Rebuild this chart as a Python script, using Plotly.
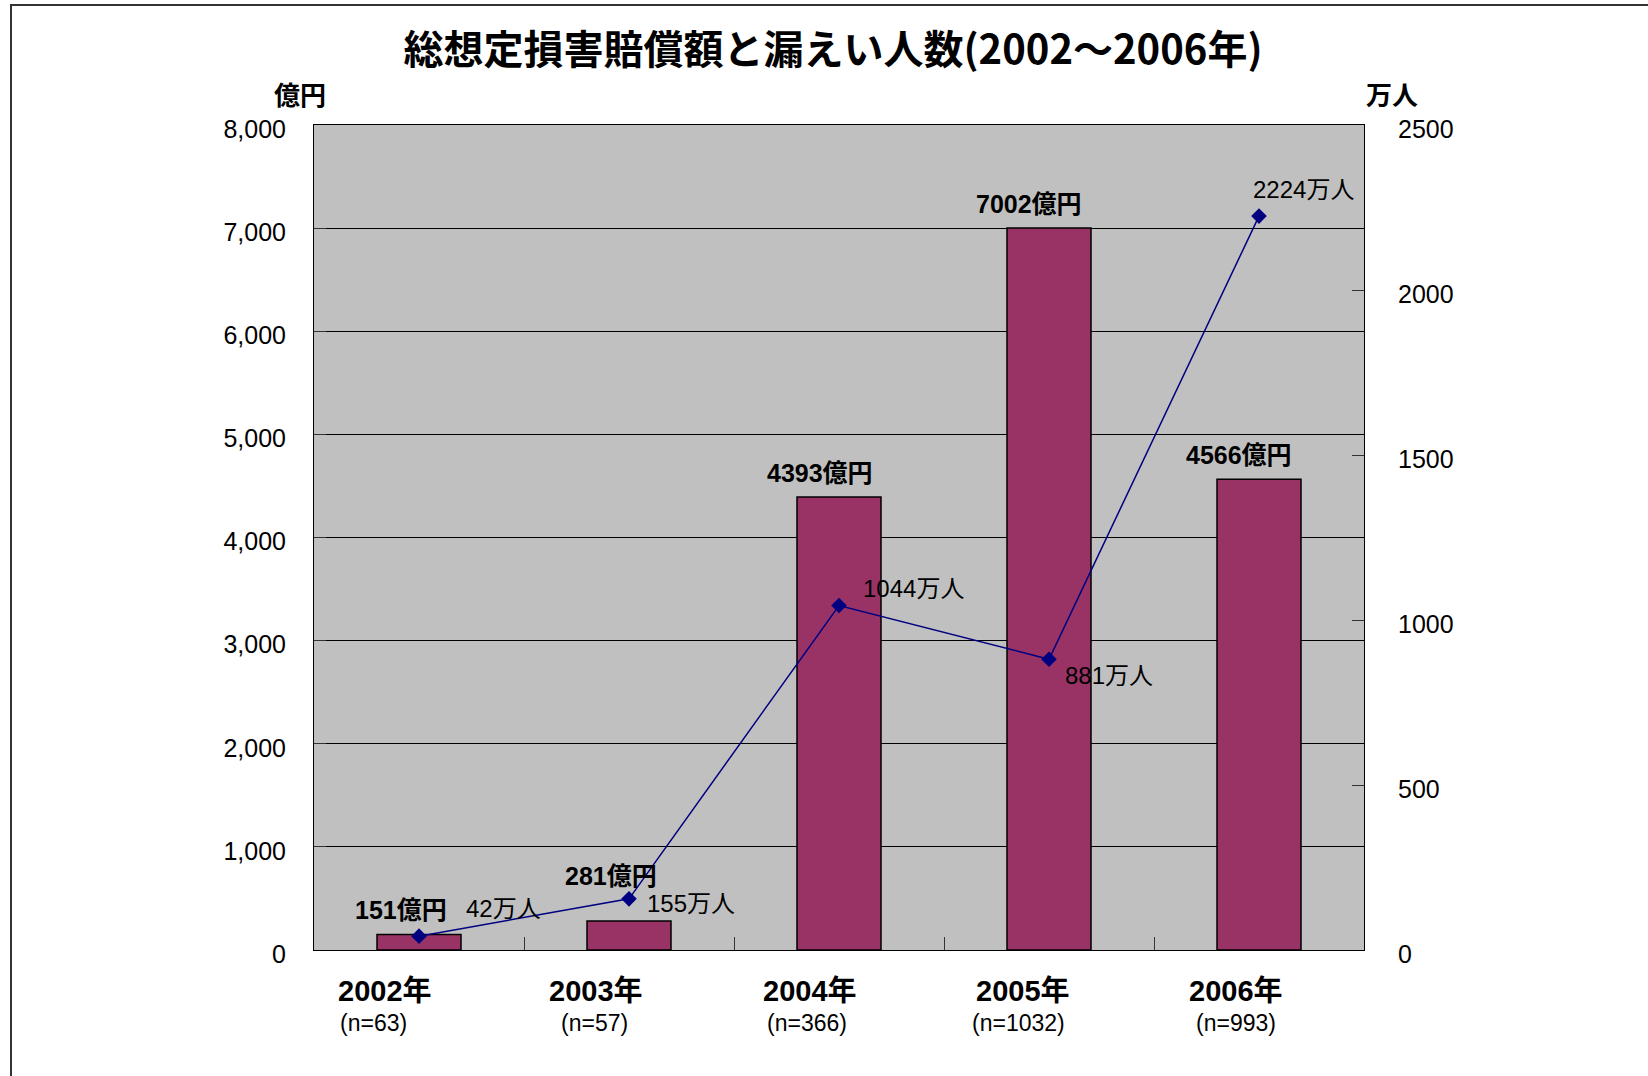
import plotly.graph_objects as go

# ---- data ----
years = ["2002年", "2003年", "2004年", "2005年", "2006年"]
n_labels = ["(n=63)", "(n=57)", "(n=366)", "(n=1032)", "(n=993)"]
damage_oku = [151, 281, 4393, 7002, 4566]          # 億円 (left axis)
people_man = [42, 155, 1044, 881, 2224]            # 万人 (right axis)
left_ticks = [0, 1000, 2000, 3000, 4000, 5000, 6000, 7000, 8000]
right_ticks = [0, 500, 1000, 1500, 2000, 2500]

# ---- label offsets (styling only, pixels) ----
bar_lbl_dx = [-18, -18, -19, -20, -20]
bar_lbl_dy = [24, 45, 24, 24, 24]
line_lbl_dx = [45, 16, 22, 14, -8]
line_lbl_dy = [28, -5, 17, -16, 27]
year_dx = [-34, -33, -29, -26, -23]
n_dx = [-46, -35, -32, -31, -23]

W, H = 1648, 1076
L, R, T, B = 314, 1364, 125, 950
pw, ph = R - L, B - T

def px(x):
    return (x - L) / pw

def py(y):
    return (B - y) / ph

FONT = "Liberation Sans, Arial, Noto Sans CJK JP"
CJK = "Noto Sans CJK JP, Liberation Sans"

fig = go.Figure()
fig.add_trace(go.Bar(
    x=years, y=damage_oku, width=0.4,
    marker=dict(color="#993366", line=dict(color="black", width=1.5)),
    yaxis="y", showlegend=False,
))
fig.add_trace(go.Scatter(
    x=years, y=people_man, yaxis="y2", mode="lines+markers",
    line=dict(color="#000080", width=1.5),
    marker=dict(symbol="diamond", size=12, color="#000080"),
    showlegend=False,
))

ann = []
for i, (c, v) in enumerate(zip(years, damage_oku)):
    ann.append(dict(x=c, y=v, xref="x", yref="y", text=f"<b>{v}億円</b>",
                    showarrow=False, xanchor="center", yanchor="middle",
                    xshift=bar_lbl_dx[i], yshift=bar_lbl_dy[i],
                    font=dict(family=FONT, size=25, color="black")))
for i, (c, v) in enumerate(zip(years, people_man)):
    ann.append(dict(x=c, y=v, xref="x", yref="y2", text=f"{v}万人",
                    showarrow=False, xanchor="left", yanchor="middle",
                    xshift=line_lbl_dx[i], yshift=line_lbl_dy[i],
                    font=dict(family=FONT, size=24, color="black")))
for i, c in enumerate(years):
    ann.append(dict(x=c, y=0, xref="x", yref="paper", text=f"<b>{c}</b>",
                    showarrow=False, xanchor="center", yanchor="middle",
                    xshift=year_dx[i], yshift=-41,
                    font=dict(family=FONT, size=29, color="black")))
    ann.append(dict(x=c, y=0, xref="x", yref="paper", text=n_labels[i],
                    showarrow=False, xanchor="center", yanchor="middle",
                    xshift=n_dx[i], yshift=-73,
                    font=dict(family=FONT, size=23, color="black")))
ann.append(dict(x=px(300), y=py(94), xref="paper", yref="paper", text="<b>億円</b>",
                showarrow=False, xanchor="center", yanchor="middle",
                font=dict(family=CJK, size=26, color="black")))
ann.append(dict(x=px(1392), y=py(94), xref="paper", yref="paper", text="<b>万人</b>",
                showarrow=False, xanchor="center", yanchor="middle",
                font=dict(family=CJK, size=26, color="black")))

shapes = [dict(type="path", xref="paper", yref="paper",
               path=f"M {px(11)} {py(1080)} L {px(11)} {py(5)} L {px(1650)} {py(5)}",
               line=dict(color="#333333", width=2))]

fig.update_layout(
    width=W, height=H, autosize=False,
    margin=dict(l=L, r=W - R, t=T, b=H - B, pad=0),
    paper_bgcolor="white", plot_bgcolor="#C0C0C0",
    title=dict(text="<b>総想定損害賠償額と漏えい人数(2002～2006年)</b>",
               x=833 / W, xanchor="center", y=1 - 50 / H, yanchor="middle",
               xref="container", yref="container",
               font=dict(family=CJK, size=40, color="black")),
    xaxis=dict(type="category", showticklabels=False, tickson="boundaries",
               ticks="inside", ticklen=13, tickcolor="#333333",
               showline=True, linecolor="black", linewidth=1, mirror=True,
               showgrid=False),
    yaxis=dict(range=[0, 8000], tickvals=left_ticks, tickformat=",d",
               ticks="inside", ticklen=12, tickcolor="#333333",
               showgrid=True, gridcolor="black", gridwidth=1,
               showline=True, linecolor="black", linewidth=1,
               zeroline=False, ticklabelstandoff=22, ticklabelshift=4,
               tickfont=dict(family=FONT, size=25, color="black")),
    yaxis2=dict(range=[0, 2500], tickvals=right_ticks, tickformat="d",
                overlaying="y", side="right",
                ticks="inside", ticklen=12, tickcolor="#333333",
                showgrid=False, showline=True, linecolor="black", linewidth=1,
                zeroline=False, ticklabelstandoff=28, ticklabelshift=4,
                tickfont=dict(family=FONT, size=25, color="black")),
    annotations=ann, shapes=shapes,
)

fig.write_html("out.html")
